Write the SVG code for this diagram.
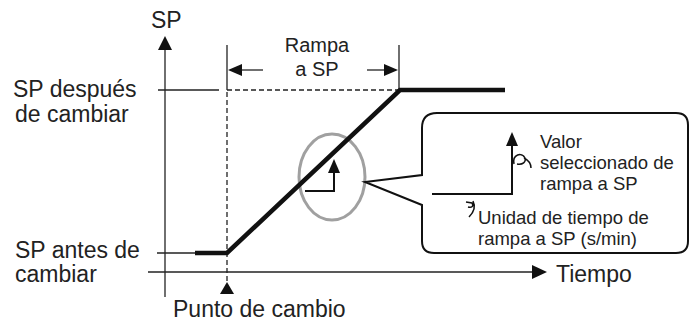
<svg xmlns="http://www.w3.org/2000/svg" width="689" height="322" viewBox="0 0 689 322">
<style>
text{font-family:"Liberation Sans",Arial,sans-serif;fill:#222}
.big{font-size:23px}
.mid{font-size:20px}
.sm{font-size:18.5px}
.thin{stroke:#222;stroke-width:1.3;fill:none}
.dash{stroke:#222;stroke-width:1.3;fill:none;stroke-dasharray:5 3}
.ah{fill:#111}
</style>
<rect width="689" height="322" fill="#fff"/>
<g id="axes">
<line class="thin" x1="165" y1="48" x2="165" y2="297"/>
<polygon class="ah" points="165,36 158,50 172,50"/>
<line class="thin" x1="148" y1="272" x2="533" y2="272"/>
<polygon class="ah" points="547,272 532,265 532,279"/>
</g>
<g id="connectors">
<line class="thin" x1="158" y1="90" x2="219" y2="90"/>
<line class="thin" x1="157" y1="253" x2="197" y2="253"/>
<line class="thin" x1="227" y1="45" x2="227" y2="90"/>
<line class="thin" x1="399" y1="45" x2="399" y2="90"/>
<line class="dash" x1="227" y1="90" x2="399" y2="90"/>
<line class="dash" x1="227" y1="92" x2="227" y2="281"/>
<line class="thin" x1="240" y1="70" x2="263" y2="70"/>
<polygon class="ah" points="228,70 242,64 242,76"/>
<line class="thin" x1="367" y1="70" x2="386" y2="70"/>
<polygon class="ah" points="398,70 384,64 384,76"/>
<polygon class="ah" points="227,282 220,294 234,294"/>
</g>
<g id="ramp">
<ellipse cx="332" cy="177" rx="33" ry="43" fill="none" stroke="#a0a0a0" stroke-width="3"/>
<polyline points="195,253 227,253 400,90 505,90" fill="none" stroke="#111" stroke-width="4.5" stroke-linejoin="miter"/>
<polyline points="305,191 334,191 334,171" fill="none" stroke="#111" stroke-width="2"/>
<polygon class="ah" points="334,159 328,173 340,173"/>
</g>
<g id="callout">
<path d="M422,175 L422,128 Q422,113 437,113 L676,113 Q688,113 688,125 L688,241 Q688,253 676,253 L434,253 Q422,253 422,241 L422,205 L365,182 Z" fill="#fff" stroke="#111" stroke-width="2" stroke-linejoin="miter"/>
<polyline points="432,194 512,194 512,144" fill="none" stroke="#111" stroke-width="2"/>
<polygon class="ah" points="512,132 506,146 518,146"/>
<path d="M514,164 C512,154 522,152 525,158 C526,162 523,165 517,164 M524,158 C528,160 531,163 531,168" fill="none" stroke="#111" stroke-width="1.5"/>
<path d="M466,202 L472,203 C474,206 472,208 468,207 M473,201 C476,207 474,212 469,217" fill="none" stroke="#111" stroke-width="1.5"/>
</g>
<g id="labels">
<text class="big" x="151" y="28">SP</text>
<text class="mid" x="317" y="52" text-anchor="middle">Rampa</text>
<text class="mid" x="317" y="76" text-anchor="middle">a SP</text>
<text class="big" x="13" y="97">SP después</text>
<text class="big" x="15" y="122">de cambiar</text>
<text class="big" x="15" y="258">SP antes de</text>
<text class="big" x="15" y="282">cambiar</text>
<text class="big" x="173" y="317">Punto de cambio</text>
<text class="big" x="556" y="282">Tiempo</text>
<text class="sm" x="540" y="148">Valor</text>
<text class="sm" x="540" y="169">seleccionado de</text>
<text class="sm" x="540" y="190">rampa a SP</text>
<text class="sm" x="478" y="224">Unidad de tiempo de</text>
<text class="sm" x="478" y="245">rampa a SP (s/min)</text>
</g>
</svg>
